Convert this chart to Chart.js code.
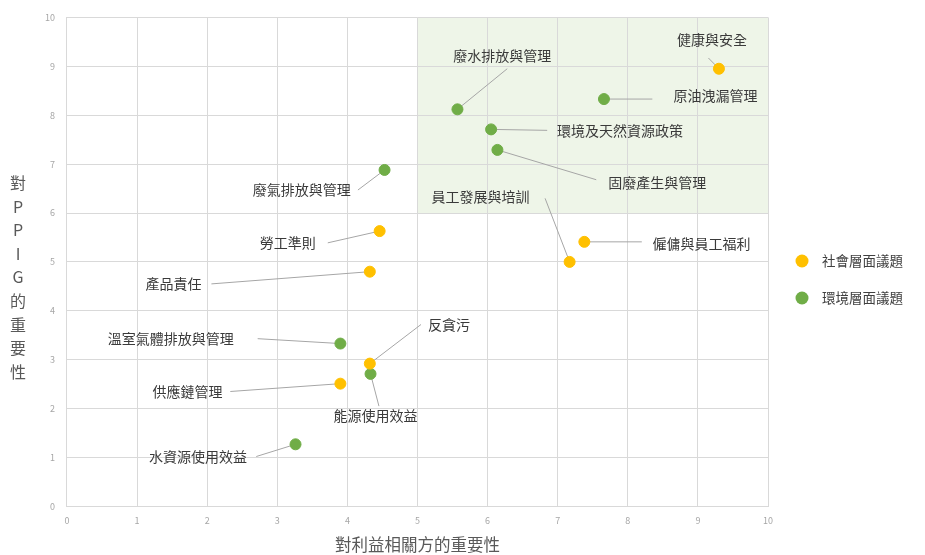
<!DOCTYPE html>
<html>
<head>
<meta charset="utf-8">
<script src="https://cdn.jsdelivr.net/npm/chart.js@4.4.0/dist/chart.umd.min.js"></script>
<style>
  html, body { margin: 0; padding: 0; background: #fff; }
  #wrap { width: 925px; height: 555px; position: relative; }
</style>
</head>
<body>
<div id="wrap"><canvas id="matrixChart"></canvas></div>
<script>
const FONT = '"Noto Sans CJK TC", "Noto Sans CJK SC", "Noto Sans", sans-serif';

// social issues (yellow)
const socialNames = ['健康與安全', '僱傭與員工福利', '員工發展與培訓', '勞工準則', '產品責任', '反貪污', '供應鏈管理'];
const socialX = [9.3, 7.38, 7.17, 4.46, 4.32, 4.32, 3.9];
const socialY = [8.95, 5.41, 5.0, 5.63, 4.8, 2.92, 2.51];
// label anchor (data units) and leader end
const socialLabelX = [9.2, 9.05, 5.9, 3.15, 1.52, 5.45, 1.72];
const socialLabelY = [9.55, 5.38, 6.33, 5.39, 4.55, 3.72, 2.35];
const socialLineX = [9.15, 8.2, 6.82, 3.72, 2.06, 5.05, 2.33];
const socialLineY = [9.17, 5.41, 6.3, 5.39, 4.55, 3.72, 2.35];

// environmental issues (green)
const envNames = ['原油洩漏管理', '廢水排放與管理', '環境及天然資源政策', '固廢產生與管理', '廢氣排放與管理', '溫室氣體排放與管理', '能源使用效益', '水資源使用效益'];
const envX = [7.66, 5.57, 6.05, 6.14, 4.53, 3.9, 4.33, 3.26];
const envY = [8.33, 8.12, 7.71, 7.29, 6.88, 3.33, 2.71, 1.27];
const envLabelX = [9.25, 6.21, 7.89, 8.42, 3.35, 1.48, 4.4, 1.87];
const envLabelY = [8.4, 9.22, 7.69, 6.63, 6.47, 3.43, 1.86, 1.02];
const envLineX = [8.35, 6.28, 6.85, 7.55, 4.15, 2.72, 4.45, 2.7];
const envLineY = [8.33, 8.95, 7.69, 6.68, 6.47, 3.43, 2.05, 1.02];

const xTicks = [0, 1, 2, 3, 4, 5, 6, 7, 8, 9, 10];
const yTicks = [0, 1, 2, 3, 4, 5, 6, 7, 8, 9, 10];
const yTitle = ['對', 'P', 'P', 'I', 'G', '的', '重', '要', '性'];
const highZone = { xMin: 5, xMax: 10, yMin: 6, yMax: 10 };

const YELLOW = '#FFC000';
const GREEN = '#70AD47';

function pts(xs, ys) { return xs.map((x, i) => ({ x, y: ys[i] })); }

const matrixPlugin = {
  id: 'matrix',
  beforeDraw(chart) {
    const { ctx, scales: { x, y } } = chart;
    ctx.save();
    ctx.fillStyle = '#eef5e8';
    const l = x.getPixelForValue(highZone.xMin), r = x.getPixelForValue(highZone.xMax);
    const t = y.getPixelForValue(highZone.yMax), b = y.getPixelForValue(highZone.yMin);
    ctx.fillRect(l, t, r - l, b - t);
    ctx.restore();
  },
  beforeDatasetsDraw(chart) {
    const { ctx, scales: { x, y } } = chart;
    const groups = [
      [socialX, socialY, socialLineX, socialLineY],
      [envX, envY, envLineX, envLineY],
    ];
    ctx.save();
    ctx.strokeStyle = '#a6a6a6';
    ctx.lineWidth = 1;
    groups.forEach(([px, py, lx, ly]) => {
      px.forEach((v, i) => {
        ctx.beginPath();
        ctx.moveTo(x.getPixelForValue(v), y.getPixelForValue(py[i]));
        ctx.lineTo(x.getPixelForValue(lx[i]), y.getPixelForValue(ly[i]));
        ctx.stroke();
      });
    });
    ctx.restore();
  },
  afterDatasetsDraw(chart) {
    const { ctx, scales: { x, y } } = chart;
    ctx.save();
    ctx.fillStyle = '#3a3a3a';
    ctx.font = '14px ' + FONT;
    ctx.textAlign = 'center';
    ctx.textBaseline = 'middle';
    socialNames.forEach((n, i) => ctx.fillText(n, x.getPixelForValue(socialLabelX[i]), y.getPixelForValue(socialLabelY[i])));
    envNames.forEach((n, i) => ctx.fillText(n, x.getPixelForValue(envLabelX[i]), y.getPixelForValue(envLabelY[i])));

    // vertical stacked y title
    ctx.fillStyle = '#595959';
    ctx.font = '16px ' + FONT;
    yTitle.forEach((c, i) => ctx.fillText(c, 18, 183 + i * 23.6));

    // legend
    const legend = [[YELLOW, '社會層面議題'], [GREEN, '環境層面議題']];
    ctx.font = '13.5px ' + FONT;
    ctx.textAlign = 'left';
    legend.forEach(([c, t], i) => {
      const ly = 261 + i * 37;
      ctx.beginPath();
      ctx.fillStyle = c;
      ctx.arc(802, ly, 6.5, 0, Math.PI * 2);
      ctx.fill();
      ctx.fillStyle = '#404040';
      ctx.fillText(t, 822, ly);
    });
    ctx.restore();
  },
};

new Chart(document.getElementById('matrixChart'), {
  type: 'scatter',
  data: {
    datasets: [
      { label: '社會層面議題', data: pts(socialX, socialY), backgroundColor: YELLOW, borderColor: YELLOW, pointRadius: 5.5 },
      { label: '環境層面議題', data: pts(envX, envY), backgroundColor: GREEN, borderColor: GREEN, pointRadius: 5.5 },
    ],
  },
  options: {
    responsive: true,
    maintainAspectRatio: false,
    animation: false,
    layout: { padding: { left: 33, right: 157, top: 8, bottom: 0 } },
    plugins: {
      legend: { display: false },
      tooltip: { enabled: false },
    },
    scales: {
      x: {
        type: 'linear',
        min: 0, max: 10,
        afterBuildTicks: s => { s.ticks = xTicks.map(v => ({ value: v })); },
        grid: { color: '#d9d9d9', drawTicks: false },
        border: { color: '#d9d9d9' },
        ticks: { color: '#a6a6a6', font: { size: 9, family: FONT }, padding: 9 },
        title: { display: true, text: '對利益相關方的重要性', color: '#595959', font: { size: 16.5, family: FONT }, padding: { top: 0, bottom: 0 } },
      },
      y: {
        type: 'linear',
        min: 0, max: 10,
        afterBuildTicks: s => { s.ticks = yTicks.map(v => ({ value: v })); },
        grid: { color: '#d9d9d9', drawTicks: false },
        border: { color: '#d9d9d9' },
        ticks: { color: '#a6a6a6', font: { size: 9, family: FONT }, padding: 12 },
      },
    },
  },
  plugins: [matrixPlugin],
});
</script>
</body>
</html>
